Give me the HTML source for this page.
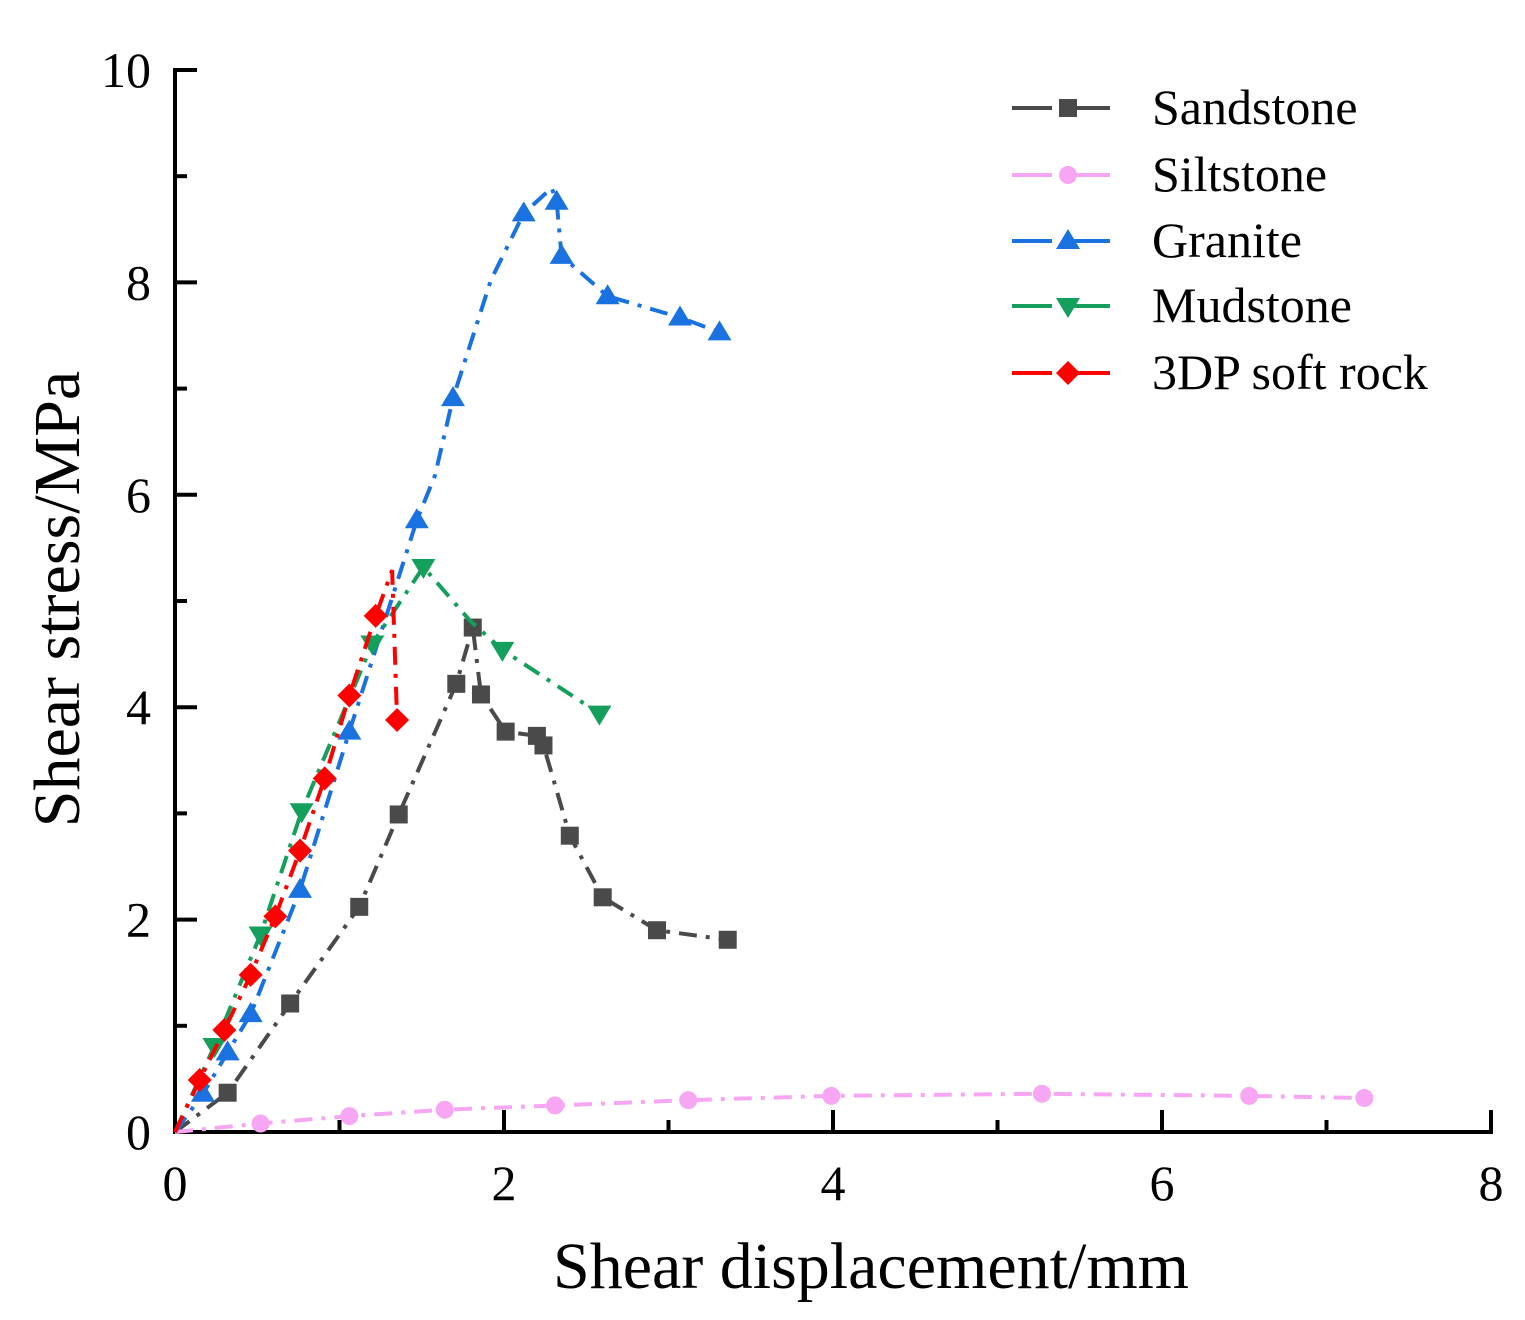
<!DOCTYPE html>
<html><head><meta charset="utf-8"><style>
body{margin:0;background:#fff}
svg{display:block;font-family:"Liberation Serif",serif}
</style></head><body>
<svg id="chart" width="1525" height="1320" viewBox="0 0 1525 1320">
<g id="axes"></g>
<g id="series"></g>
<g id="legend"></g>
<text x="871" y="1288" font-size="66" text-anchor="middle">Shear displacement/mm</text>
<text transform="translate(79,599) rotate(-90)" font-size="66" text-anchor="middle">Shear stress/MPa</text>
</svg>
<script>
const xTicks=[0,2,4,6,8];
const yTicks=[0,2,4,6,8,10];
const seriesNames=["Sandstone","Siltstone","Granite","Mudstone","3DP soft rock"];
const sandX=[0,0.32,0.70,1.12,1.36,1.71,1.81,1.86,2.01,2.20,2.24,2.40,2.60,2.93,3.36];
const sandY=[0,0.37,1.21,2.12,2.99,4.22,4.75,4.12,3.77,3.73,3.64,2.79,2.21,1.90,1.81];
const siltX=[0,0.52,1.06,1.64,2.31,3.12,3.99,5.27,6.53,7.23];
const siltY=[0,0.08,0.15,0.21,0.25,0.30,0.34,0.36,0.34,0.32];
const graX=[0,0.17,0.32,0.46,0.76,1.06,1.47,1.58,1.69,1.92,2.12,2.29,2.32,2.35,2.63,3.07,3.31];
const graY=[0,0.36,0.75,1.11,2.28,3.77,5.76,6.18,6.91,8.02,8.65,8.89,8.76,8.25,7.87,7.67,7.53];
const mudX=[0,0.24,0.52,0.77,1.20,1.51,1.79,1.99,2.58];
const mudY=[0,0.81,1.86,3.02,4.60,5.32,4.82,4.54,3.94];
const dpX=[0,0.15,0.30,0.46,0.61,0.76,0.91,1.06,1.22,1.32,1.35];
const dpY=[0,0.49,0.96,1.48,2.03,2.65,3.33,4.11,4.86,5.29,3.88];
// indices of points drawn without a marker
const noMarker=[[],[],[7,9,11],[6],[9]];

const NS="http://www.w3.org/2000/svg";
const X0=175,X1=1491,Y0=1132,Y1=70;
const sx=v=>X0+(v-0)/(8-0)*(X1-X0);
const sy=v=>Y0-(v-0)/(10-0)*(Y0-Y1);
function mk(tag,attrs,parent){const e=document.createElementNS(NS,tag);for(const k in attrs)e.setAttribute(k,attrs[k]);parent.appendChild(e);return e;}
const axes=document.getElementById('axes');
let l=mk('line',{x1:X0-2,y1:Y0,x2:X1+2,y2:Y0,stroke:'#000','stroke-width':4},axes);


l=mk('line',{x1:X0,y1:Y0+2,x2:X0,y2:Y1-2,stroke:'#000','stroke-width':4},axes);


for(let v=1;v<8;v+=2){const t=mk('line',{x1:sx(v),y1:Y0,x2:sx(v),y2:Y0-12,stroke:'#000','stroke-width':4},axes);

}
for(let v=1;v<10;v+=2){const t=mk('line',{x1:X0,y1:sy(v),x2:X0+12,y2:sy(v),stroke:'#000','stroke-width':4},axes);

}
xTicks.forEach(v=>{const t=mk('line',{x1:sx(v),y1:Y0,x2:sx(v),y2:Y0-22,stroke:'#000','stroke-width':4},axes);


const tx=mk('text',{x:sx(v),y:Y0+68,'font-size':50,'text-anchor':'middle'},axes);tx.textContent=v;

});
yTicks.forEach(v=>{const t=mk('line',{x1:X0,y1:sy(v),x2:X0+22,y2:sy(v),stroke:'#000','stroke-width':4},axes);


const tx=mk('text',{x:X0-24,y:sy(v)+17,'font-size':50,'text-anchor':'end'},axes);tx.textContent=v;

});

const colors=["#4a4a4a","#f7a6f3","#1a72e0","#14a05c","#ff0000"];
const markers=["square","circle","tri-up","tri-down","diamond"];
const data=[[sandX,sandY],[siltX,siltY],[graX,graY],[mudX,mudY],[dpX,dpY]];
function marker(type,x,y,c,g){
  const s=9;let e;
  if(type==='square')e=mk('rect',{x:x-s,y:y-s,width:2*s,height:2*s,fill:c},g);
  else if(type==='circle')e=mk('circle',{cx:x,cy:y,r:s,fill:c},g);
  else if(type==='tri-up')e=mk('polygon',{points:`${x},${y-12} ${x+12},${y+8} ${x-12},${y+8}`,fill:c},g);
  else if(type==='tri-down')e=mk('polygon',{points:`${x},${y+12} ${x+12},${y-8} ${x-12},${y-8}`,fill:c},g);
  else e=mk('polygon',{points:`${x},${y-12} ${x+12},${y} ${x},${y+12} ${x-12},${y}`,fill:c},g);
  return e;
}
const series=document.getElementById('series');
data.forEach((d,i)=>{
  const g=mk('g',{},series);
  
  
  const pts=d[0].map((x,j)=>sx(x)+','+sy(d[1][j])).join(' ');
  const p=mk('polyline',{points:pts,fill:'none',stroke:colors[i],'stroke-width':4,'stroke-dasharray':'18 9 4 9'},g);
  
  
  d[0].forEach((x,j)=>{if(j===0||noMarker[i].includes(j))return;const m=marker(markers[i],sx(x),sy(d[1][j]),colors[i],g);
    
    });
});
const legend=document.getElementById('legend');
const ly=[108,175,241,306,373];
seriesNames.forEach((n,i)=>{
  const g=mk('g',{},legend);
  
  
  mk('line',{x1:1012,y1:ly[i],x2:1110,y2:ly[i],stroke:colors[i],'stroke-width':4,'stroke-dasharray':'40 18'},g);
  marker(markers[i],1068,ly[i],colors[i],g);
  const t=mk('text',{x:1152,y:ly[i]+16,'font-size':50},g);t.textContent=n;
});
</script>
</body></html>
